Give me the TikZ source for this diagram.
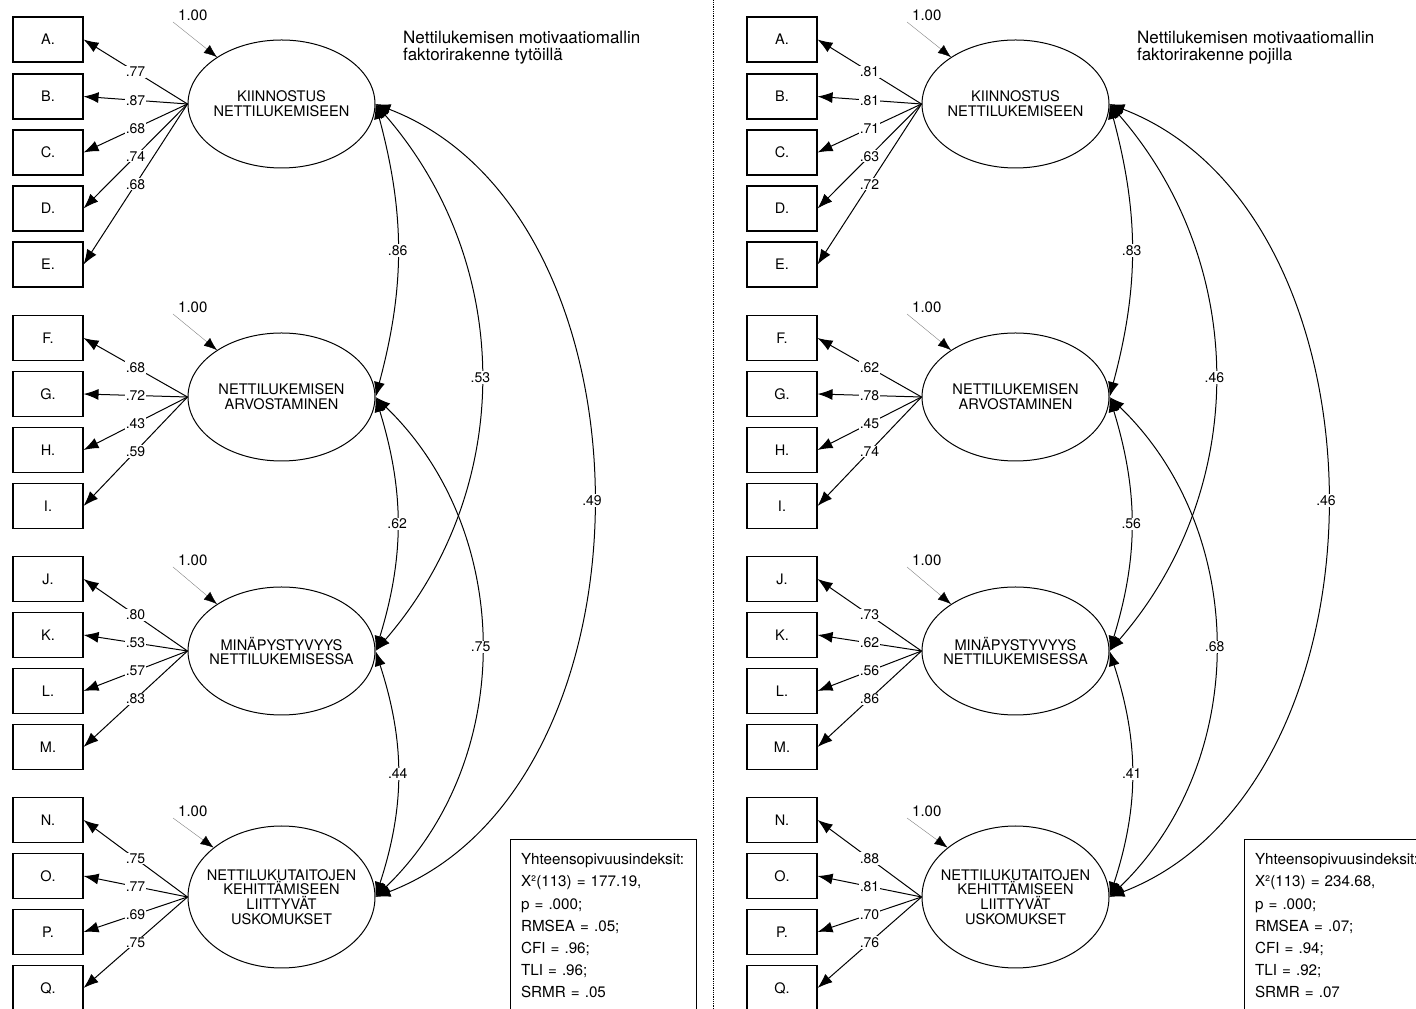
\documentclass[tikz,border=0pt]{standalone}
\usepackage{fontspec}
\setmainfont{TeX Gyre Heros}
\usetikzlibrary{shapes.geometric,arrows.meta,positioning}
\tikzset{
  indicator/.style={draw, line width=1.1pt, minimum width=70pt, minimum height=45pt, inner sep=0pt, font=\fontsize{14.5}{16}\selectfont},
  factor/.style={draw, ellipse, line width=1pt, minimum width=187pt, minimum height=128pt, inner sep=-16pt, align=center, font=\fontsize{14.6}{14.7}\selectfont},
  loading/.style={line width=1pt, -{Latex[length=15pt,width=11pt]}},
  cov/.style={line width=1pt, {Latex[length=15pt,width=11pt]}-{Latex[length=15pt,width=11pt]}},
  coef/.style={fill=white, inner sep=1pt, font=\fontsize{14}{15}\selectfont},
  errarrow/.style={gray, line width=0.4pt, -{Latex[length=13pt,width=10pt,black]}},
  varlab/.style={inner sep=0pt, font=\fontsize{15}{16}\selectfont},
  title/.style={anchor=north west, align=left, inner sep=0pt, font=\fontsize{17}{16.5}\selectfont},
  fitbox/.style={draw, line width=1.1pt, anchor=north west, align=left, text width=165pt, inner xsep=10.5pt, inner ysep=14pt, font=\fontsize{15.2}{22.2}\selectfont},
  separator/.style={densely dotted, line width=0.8pt}
}
\newcommand{\indic}[4]{\node[indicator] (#1) at ( #2 , #3 ) {#4};}
\newcommand{\load}[3]{\draw[loading] (#1.west) -- node[coef] {#3} (#2.east);}
\newcommand{\covar}[4]{\draw[cov] (#1.east) to[bend left=#3] node[coef] {#4} (#2.east);}
\newcommand{\resid}[4]{\coordinate (#1) at ( #3 , #4 ); \draw[errarrow] (#1) -- (#2.144); \node[varlab, above right=1pt and 5pt of #1] (#1Lab) {1.00};}

\begin{document}
\begin{tikzpicture}[x=1pt, y=1pt]
\useasboundingbox (0,0) rectangle (1416,1009);
% separator
\coordinate (sepBot) at (713,0);
\coordinate (sepTop) at (713,1009);
\draw[separator] (sepBot) -- (sepTop);

% ---- tytot (left)
\node[title] (tTitle) at (403,978) {Nettilukemisen motivaatiomallin\\faktorirakenne tytöillä};
% indicators
\indic{tA}{48}{969.5}{A.}
\indic{tB}{48}{912.5}{B.}
\indic{tC}{48}{856.5}{C.}
\indic{tD}{48}{800.5}{D.}
\indic{tE}{48}{744.5}{E.}
\indic{tF}{48}{671}{F.}
\indic{tG}{48}{615}{G.}
\indic{tH}{48}{559}{H.}
\indic{tI}{48}{503}{I.}
\indic{tJ}{48}{430}{J.}
\indic{tK}{48}{374}{K.}
\indic{tL}{48}{318}{L.}
\indic{tM}{48}{262}{M.}
\indic{tN}{48}{189}{N.}
\indic{tO}{48}{133}{O.}
\indic{tP}{48}{77}{P.}
\indic{tQ}{48}{21}{Q.}
% factors
\node[factor] (tKiin) at (281.5,905) {KIINNOSTUS\\NETTILUKEMISEEN};
\node[factor] (tArvo) at (281.5,612) {NETTILUKEMISEN\\ARVOSTAMINEN};
\node[factor] (tMina) at (281.5,358) {MINÄPYSTYVYYS\\NETTILUKEMISESSA};
\node[factor, minimum height=142pt] (tUsko) at (281.5,112) {NETTILUKUTAITOJEN\\KEHITTÄMISEEN\\LIITTYVÄT\\USKOMUKSET};
% loadings
\load{tKiin}{tA}{.77}
\load{tKiin}{tB}{.87}
\load{tKiin}{tC}{.68}
\load{tKiin}{tD}{.74}
\load{tKiin}{tE}{.68}
\load{tArvo}{tF}{.68}
\load{tArvo}{tG}{.72}
\load{tArvo}{tH}{.43}
\load{tArvo}{tI}{.59}
\load{tMina}{tJ}{.80}
\load{tMina}{tK}{.53}
\load{tMina}{tL}{.57}
\load{tMina}{tM}{.83}
\load{tUsko}{tN}{.75}
\load{tUsko}{tO}{.77}
\load{tUsko}{tP}{.69}
\load{tUsko}{tQ}{.75}
% variances
\resid{tKiinErr}{tKiin}{173}{987}
\resid{tArvoErr}{tArvo}{173}{695}
\resid{tMinaErr}{tMina}{173}{442}
\resid{tUskoErr}{tUsko}{173}{191}
% covariances
\covar{tKiin}{tArvo}{15}{.86}
\covar{tArvo}{tMina}{17}{.62}
\covar{tMina}{tUsko}{18}{.44}
\covar{tKiin}{tMina}{41}{.53}
\covar{tArvo}{tUsko}{46}{.75}
\covar{tKiin}{tUsko}{69}{.49}
% fit
\node[fitbox] (tFit) at (510,170) {Yhteensopivuusindeksit:\\X²(113) = 177.19,\\p = .000;\\RMSEA = .05;\\CFI = .96;\\TLI = .96;\\SRMR = .05};

% ---- pojat (right)
\begin{scope}[xshift=734pt]
\node[title] (pTitle) at (403,978) {Nettilukemisen motivaatiomallin\\faktorirakenne pojilla};
% indicators
\indic{pA}{48}{969.5}{A.}
\indic{pB}{48}{912.5}{B.}
\indic{pC}{48}{856.5}{C.}
\indic{pD}{48}{800.5}{D.}
\indic{pE}{48}{744.5}{E.}
\indic{pF}{48}{671}{F.}
\indic{pG}{48}{615}{G.}
\indic{pH}{48}{559}{H.}
\indic{pI}{48}{503}{I.}
\indic{pJ}{48}{430}{J.}
\indic{pK}{48}{374}{K.}
\indic{pL}{48}{318}{L.}
\indic{pM}{48}{262}{M.}
\indic{pN}{48}{189}{N.}
\indic{pO}{48}{133}{O.}
\indic{pP}{48}{77}{P.}
\indic{pQ}{48}{21}{Q.}
% factors
\node[factor] (pKiin) at (281.5,905) {KIINNOSTUS\\NETTILUKEMISEEN};
\node[factor] (pArvo) at (281.5,612) {NETTILUKEMISEN\\ARVOSTAMINEN};
\node[factor] (pMina) at (281.5,358) {MINÄPYSTYVYYS\\NETTILUKEMISESSA};
\node[factor, minimum height=142pt] (pUsko) at (281.5,112) {NETTILUKUTAITOJEN\\KEHITTÄMISEEN\\LIITTYVÄT\\USKOMUKSET};
% loadings
\load{pKiin}{pA}{.81}
\load{pKiin}{pB}{.81}
\load{pKiin}{pC}{.71}
\load{pKiin}{pD}{.63}
\load{pKiin}{pE}{.72}
\load{pArvo}{pF}{.62}
\load{pArvo}{pG}{.78}
\load{pArvo}{pH}{.45}
\load{pArvo}{pI}{.74}
\load{pMina}{pJ}{.73}
\load{pMina}{pK}{.62}
\load{pMina}{pL}{.56}
\load{pMina}{pM}{.86}
\load{pUsko}{pN}{.88}
\load{pUsko}{pO}{.81}
\load{pUsko}{pP}{.70}
\load{pUsko}{pQ}{.76}
% variances
\resid{pKiinErr}{pKiin}{173}{987}
\resid{pArvoErr}{pArvo}{173}{695}
\resid{pMinaErr}{pMina}{173}{442}
\resid{pUskoErr}{pUsko}{173}{191}
% covariances
\covar{pKiin}{pArvo}{15}{.83}
\covar{pArvo}{pMina}{17}{.56}
\covar{pMina}{pUsko}{18}{.41}
\covar{pKiin}{pMina}{41}{.46}
\covar{pArvo}{pUsko}{46}{.68}
\covar{pKiin}{pUsko}{69}{.46}
% fit
\node[fitbox] (pFit) at (510,170) {Yhteensopivuusindeksit:\\X²(113) = 234.68,\\p = .000;\\RMSEA = .07;\\CFI = .94;\\TLI = .92;\\SRMR = .07};
\end{scope}
\end{tikzpicture}
\end{document}
